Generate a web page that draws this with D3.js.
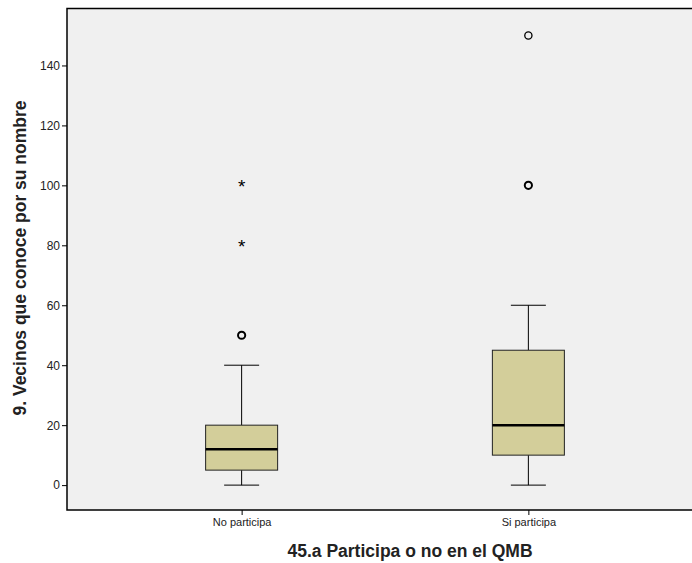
<!DOCTYPE html>
<html>
<head>
<meta charset="utf-8">
<script src="https://cdn.jsdelivr.net/npm/d3@7"></script>
<style>
  body { margin: 0; background: #fff; }
  svg { display: block; font-family: Arial, "Liberation Sans", sans-serif; }
</style>
</head>
<body>
<svg id="chart" width="692" height="563"></svg>
<script>
// groups and five-number summaries
const groups = ["No participa", "Si participa"];
const whiskerLow = [0, 0];
const q1 = [5, 10];
const medians = [12, 20];
const q3 = [20, 45];
const whiskerHigh = [40, 60];
// outliers: circles are mild, stars are extreme
const outliers = [
  { group: "No participa", value: 50, kind: "circle", heavy: true },
  { group: "No participa", value: 80, kind: "star" },
  { group: "No participa", value: 100, kind: "star" },
  { group: "Si participa", value: 100, kind: "circle", heavy: true },
  { group: "Si participa", value: 150, kind: "circle" }
];
const yTicks = [0, 20, 40, 60, 80, 100, 120, 140];

const svg = d3.select("#chart");
const plotLeft = 67, plotRight = 703, plotTop = 8.5, plotBottom = 510;

const x = d3.scalePoint().domain(groups).range([plotLeft, plotRight]).padding(0.609);
const y = d3.scaleLinear().domain([-8.3, 159]).range([plotBottom, plotTop]);

// plot background (runs off the right edge like the original)
svg.append("rect")
  .attr("x", plotLeft).attr("y", plotTop)
  .attr("width", plotRight - plotLeft).attr("height", plotBottom - plotTop)
  .attr("fill", "#f0f0f0")
  .attr("stroke", "#000").attr("stroke-width", 1.5);

// axes
const yAxis = svg.append("g")
  .attr("transform", `translate(${plotLeft},0)`)
  .call(d3.axisLeft(y).tickValues(yTicks).tickSize(5).tickPadding(2).tickSizeOuter(0));
yAxis.select(".domain").remove();
yAxis.selectAll("text").attr("font-size", 12).attr("fill", "#222").attr("font-family", "Arial, 'Liberation Sans', sans-serif");

const xAxis = svg.append("g")
  .attr("transform", `translate(0,${plotBottom})`)
  .call(d3.axisBottom(x).tickSize(5).tickPadding(3).tickSizeOuter(0));
xAxis.select(".domain").remove();
xAxis.selectAll("text").attr("font-size", 11).attr("fill", "#222").attr("font-family", "Arial, 'Liberation Sans', sans-serif");

// boxes
const boxW = 72, capW = 35;
const rows = groups.map((g, i) => ({
  g, lo: whiskerLow[i], q1: q1[i], med: medians[i], q3: q3[i], hi: whiskerHigh[i]
}));

const box = svg.append("g").selectAll("g").data(rows).enter().append("g");

box.append("line")
  .attr("x1", d => x(d.g)).attr("x2", d => x(d.g))
  .attr("y1", d => y(d.lo)).attr("y2", d => y(d.q1))
  .attr("stroke", "#000").attr("stroke-width", 1);
box.append("line")
  .attr("x1", d => x(d.g)).attr("x2", d => x(d.g))
  .attr("y1", d => y(d.q3)).attr("y2", d => y(d.hi))
  .attr("stroke", "#000").attr("stroke-width", 1);
box.append("line")
  .attr("x1", d => x(d.g) - capW / 2).attr("x2", d => x(d.g) + capW / 2)
  .attr("y1", d => y(d.lo)).attr("y2", d => y(d.lo))
  .attr("stroke", "#000").attr("stroke-width", 1);
box.append("line")
  .attr("x1", d => x(d.g) - capW / 2).attr("x2", d => x(d.g) + capW / 2)
  .attr("y1", d => y(d.hi)).attr("y2", d => y(d.hi))
  .attr("stroke", "#000").attr("stroke-width", 1);
box.append("rect")
  .attr("x", d => x(d.g) - boxW / 2).attr("width", boxW)
  .attr("y", d => y(d.q3)).attr("height", d => y(d.q1) - y(d.q3))
  .attr("fill", "#d3ce9a").attr("stroke", "#222").attr("stroke-width", 1);
box.append("line")
  .attr("x1", d => x(d.g) - boxW / 2).attr("x2", d => x(d.g) + boxW / 2)
  .attr("y1", d => y(d.med)).attr("y2", d => y(d.med))
  .attr("stroke", "#000").attr("stroke-width", 2.5);

// outliers
const pts = svg.append("g");
pts.selectAll("circle").data(outliers.filter(d => d.kind === "circle")).enter()
  .append("circle")
  .attr("cx", d => x(d.group)).attr("cy", d => y(d.value))
  .attr("r", 3.6)
  .attr("fill", "none").attr("stroke", "#000")
  .attr("stroke-width", d => d.heavy ? 2 : 1.3);
pts.selectAll("text").data(outliers.filter(d => d.kind === "star")).enter()
  .append("text")
  .attr("x", d => x(d.group)).attr("y", d => y(d.value) + 8)
  .attr("text-anchor", "middle")
  .attr("font-size", 19)
  .text("*");

// axis titles
svg.append("text")
  .attr("transform", `translate(26,258) rotate(-90)`)
  .attr("text-anchor", "middle")
  .attr("font-size", 17.5).attr("font-weight", "bold").attr("fill", "#222")
  .text("9. Vecinos que conoce por su nombre");

svg.append("text")
  .attr("x", 410).attr("y", 557)
  .attr("text-anchor", "middle")
  .attr("font-size", 17.5).attr("font-weight", "bold").attr("fill", "#222")
  .text("45.a Participa o no en el QMB");
</script>
</body>
</html>
